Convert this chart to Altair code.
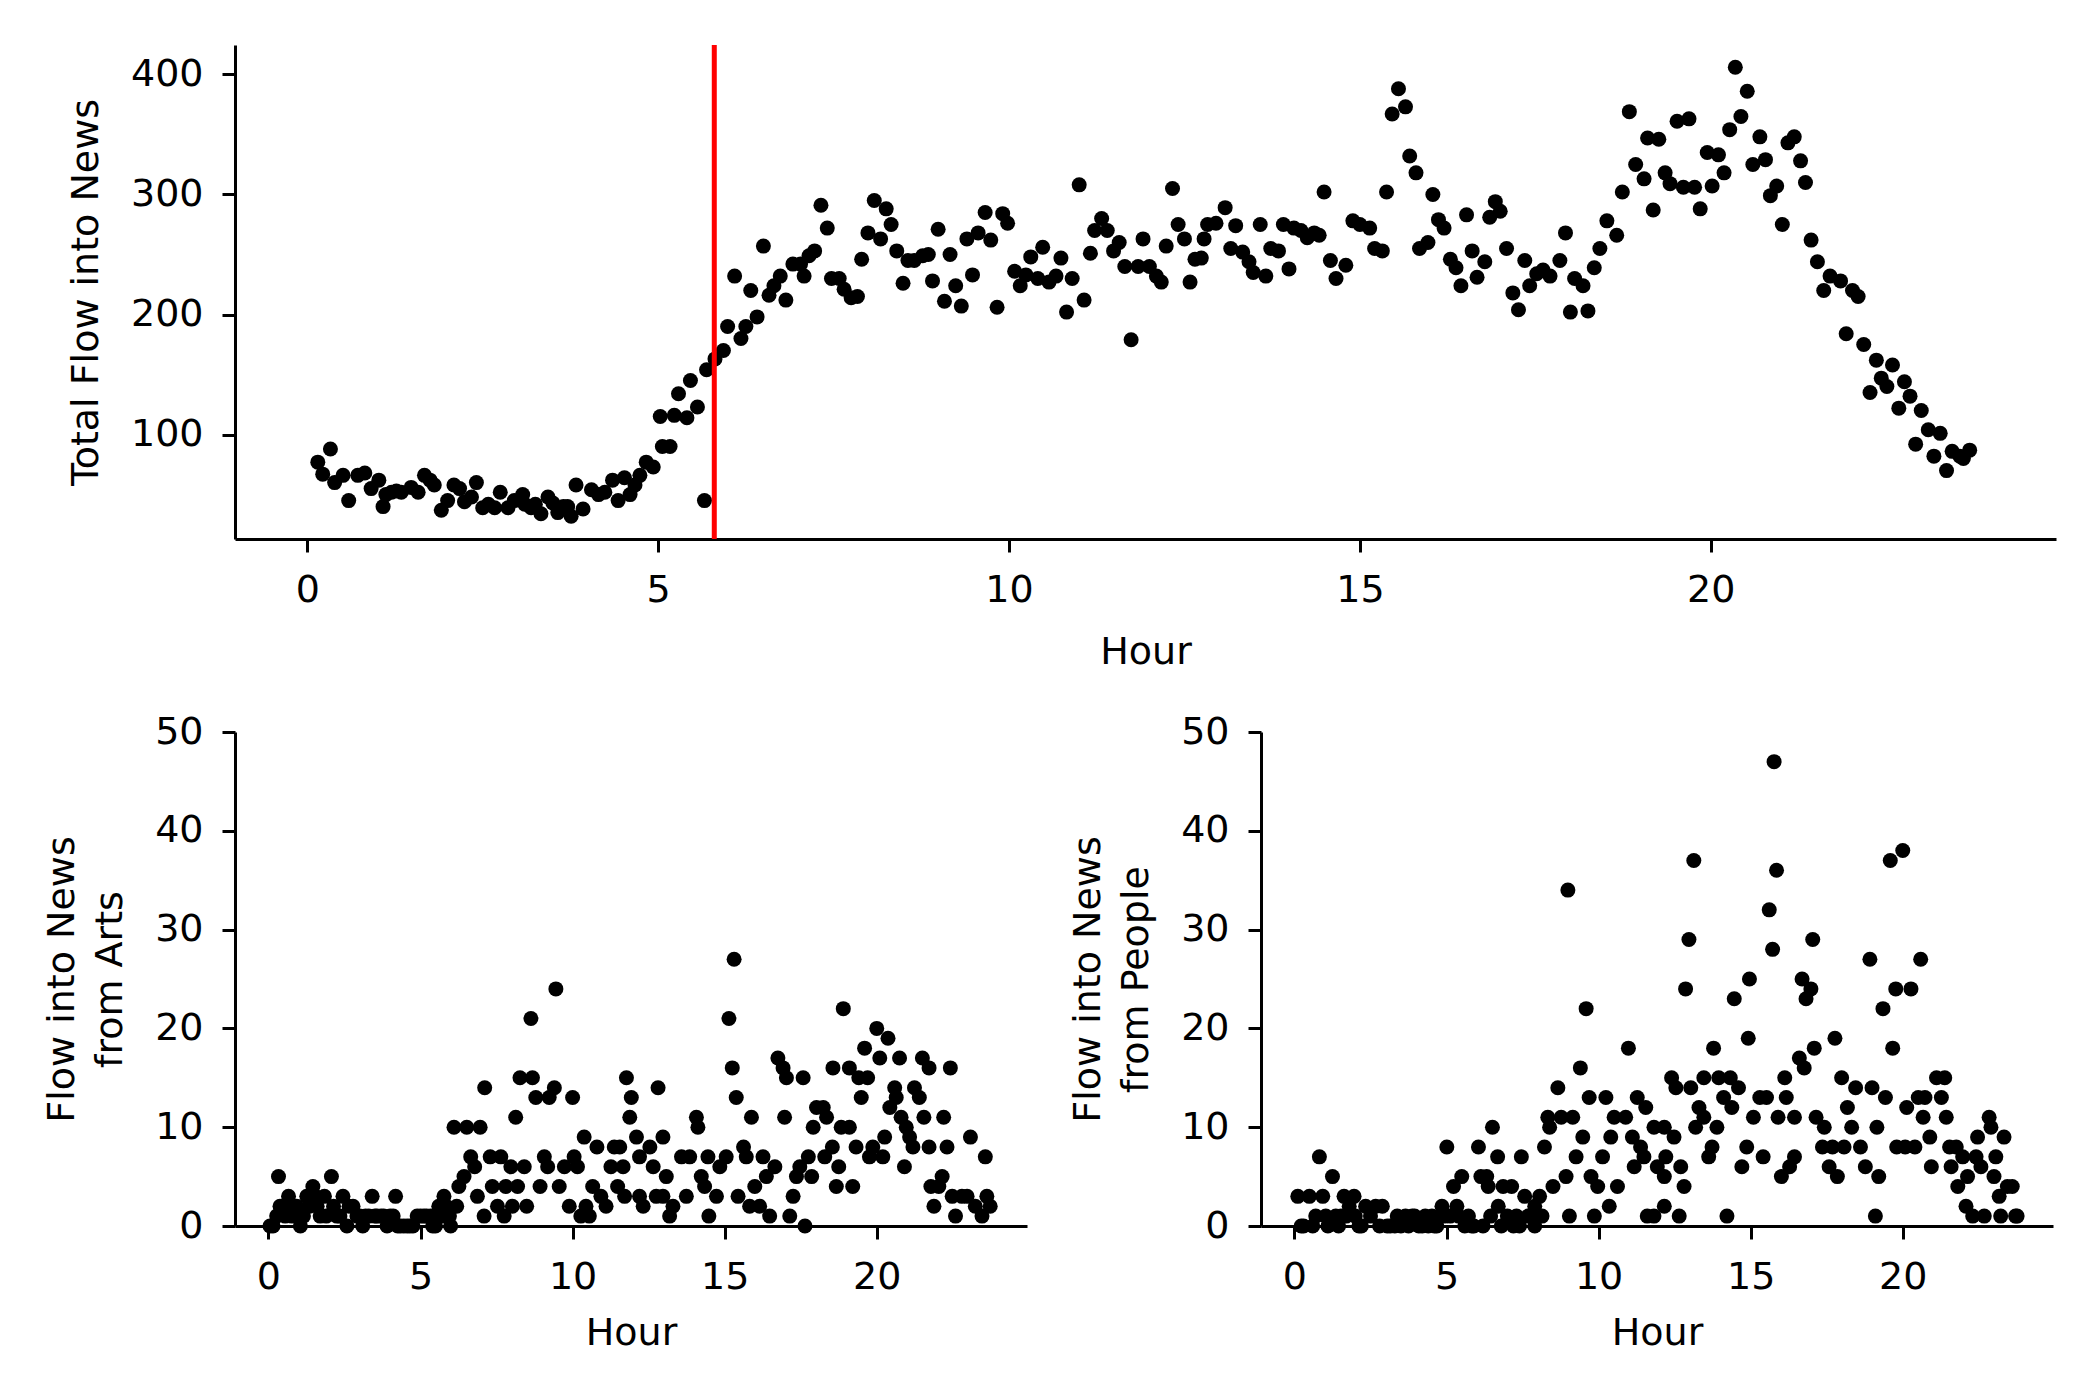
import altair as alt
import pandas as pd

# ---- Top panel: total flow into News ----
top_hour = [0.15, 0.22, 0.33, 0.39, 0.51, 0.59, 0.72, 0.82, 0.91, 1.02, 1.08, 1.12, 1.2, 1.27, 1.34, 1.48,
            1.58, 1.67, 1.75, 1.81, 1.91, 2.0, 2.09, 2.17, 2.24, 2.34, 2.41, 2.5, 2.58, 2.67, 2.75, 2.86,
            2.95, 3.07, 3.1, 3.19, 3.25, 3.33, 3.43, 3.5, 3.57, 3.65, 3.71, 3.76, 3.83, 3.93, 4.05, 4.15,
            4.24, 4.35, 4.43, 4.52, 4.6, 4.67, 4.74, 4.83, 4.93, 5.03, 5.06, 5.17, 5.23, 5.29, 5.41, 5.46,
            5.56, 5.66, 5.69, 5.81, 5.93, 5.99,
            6.09, 6.18, 6.25, 6.32, 6.41, 6.5, 6.58, 6.65, 6.74, 6.82, 6.92, 7.03, 7.08, 7.15, 7.23, 7.32,
            7.41, 7.47, 7.58, 7.65, 7.75, 7.84, 7.9, 7.99, 8.08, 8.17, 8.25, 8.32, 8.4, 8.49, 8.56, 8.65,
            8.77, 8.85, 8.91, 8.99, 9.08, 9.16, 9.24, 9.32, 9.4, 9.48, 9.56, 9.66, 9.74, 9.83, 9.91, 9.98,
            10.08, 10.16, 10.24, 10.31, 10.41, 10.48, 10.57, 10.67, 10.74, 10.82, 10.9, 11.0, 11.07, 11.16,
            11.22, 11.32, 11.4, 11.49, 11.57, 11.65, 11.74, 11.84, 11.91, 12.0, 12.1, 12.17, 12.24, 12.33,
            12.41, 12.5, 12.58, 12.65,
            12.74, 12.78, 12.83, 12.95, 13.08, 13.16, 13.23, 13.33, 13.42, 13.48, 13.58, 13.66, 13.73, 13.84,
            13.91, 13.99, 14.06, 14.16, 14.25, 14.35, 14.42, 14.49, 14.58, 14.66, 14.8, 14.9, 15.0, 15.14,
            15.21, 15.32, 15.38, 15.46, 15.55, 15.65, 15.71, 15.8, 15.85, 15.97, 16.04, 16.12, 16.2, 16.29,
            16.37, 16.44, 16.52, 16.6, 16.67, 16.78, 16.85, 16.93, 17.0, 17.09, 17.18, 17.26, 17.35, 17.42,
            17.52, 17.61, 17.71, 17.85, 17.93, 18.0, 18.06, 18.18, 18.25, 18.34, 18.42, 18.52, 18.66, 18.74,
            18.84, 18.93,
            19.05, 19.1, 19.18, 19.26, 19.35, 19.42, 19.52, 19.61, 19.69, 19.77, 19.85, 19.95, 20.02, 20.11,
            20.19, 20.27, 20.35, 20.43, 20.52, 20.6, 20.7, 20.78, 20.85, 20.94, 21.02, 21.1, 21.19, 21.28,
            21.35, 21.43, 21.52, 21.61, 21.7, 21.85, 21.93, 22.02, 22.1, 22.18, 22.27, 22.36, 22.43, 22.51,
            22.59, 22.68, 22.76, 22.84, 22.92, 23.0, 23.1, 23.18, 23.27, 23.36, 23.44, 23.55, 23.6, 23.69]
top_flow = [77, 67, 88, 60, 66, 45, 66, 68, 55, 62, 40, 50, 52, 53, 52, 56,
            52, 66, 62, 58, 37, 45, 58, 55, 44, 48, 60, 39, 42, 39, 52, 39,
            45, 50, 42, 39, 42, 34, 48, 43, 35, 40, 40, 32, 58, 38, 54, 50,
            52, 62, 45, 64, 50, 58, 66, 77, 73, 115, 90, 90, 116, 134, 114, 145,
            123, 45, 154, 163, 170, 190,
            232, 180, 190, 220, 198, 257, 216, 224, 232, 212, 242, 242, 232, 249, 253, 291,
            272, 230, 230, 221, 214, 215, 246, 268, 295, 263, 288, 275, 253, 226, 245, 245,
            249, 250, 228, 271, 211, 250, 224, 207, 263, 233, 268, 285, 262, 206, 284, 276,
            236, 224, 233, 248, 230, 256, 227, 232, 247, 202, 230, 308, 212, 251,
            270, 280, 270, 253, 260, 240, 179, 240, 263, 240, 232, 227, 257, 305,
            275, 263, 227, 246,
            247, 263, 275, 276, 289, 255, 274, 252, 244, 235, 275, 232, 255, 253,
            275, 238, 272, 270, 264, 268, 266, 302, 245, 230, 241, 278, 275, 272,
            255, 253, 302, 367, 388, 373, 332, 318, 255, 260, 300, 279, 272, 246,
            239, 224, 283, 253, 231, 244, 281, 294, 286, 255, 218, 204, 245, 224,
            234, 237, 232, 245, 268, 202, 230, 224, 203, 239, 255, 278, 266, 302,
            369, 325,
            313, 347, 287, 346, 318, 309, 361, 306, 363, 306, 288, 335, 307, 333,
            318, 354, 406, 365, 386, 325, 348, 329, 299, 307, 275, 343, 348, 328,
            310, 262, 244, 220, 232, 228, 184, 220, 215, 175, 135, 162, 147, 140,
            158, 122, 144, 132, 92, 120, 104, 82, 101, 70, 86, 82, 80, 87]
event_hour = [5.8]

# ---- Bottom left: flow into News from Arts ----
arts_hour = [0.05, 0.15, 0.27, 0.33, 0.38, 0.45, 0.55, 0.66, 0.77, 0.85, 0.93, 1.05, 1.15, 1.26, 1.35,
             1.46, 1.55, 1.6, 1.7, 1.84, 1.9, 2.07, 2.14, 2.25, 2.35, 2.45, 2.58, 2.65, 2.78, 2.91, 3.0,
             3.1, 3.19, 3.3, 3.41, 3.5, 3.57, 3.7, 3.79, 3.9, 4.0, 4.1, 4.18, 4.25, 4.34, 4.45, 4.56, 4.65,
             4.75, 4.89, 5.0, 5.11, 5.2, 5.33, 5.4, 5.49, 5.6, 5.7, 5.77, 5.85, 5.95, 5.99,
             6.1, 6.19, 6.26, 6.43, 6.52, 6.65, 6.78, 6.87, 6.96, 7.09, 7.11, 7.29, 7.36, 7.53, 7.64,
             7.75, 7.8, 7.97, 8.02, 8.13, 8.19, 8.27, 8.41, 8.49, 8.63, 8.68, 8.79, 8.93, 9.07, 9.18,
             9.23, 9.4, 9.45, 9.56, 9.73, 9.89, 10.0, 10.05, 10.16, 10.27, 10.38, 10.44, 10.55, 10.66,
             10.8, 10.93, 11.1, 11.26, 11.37, 11.48,
             11.55, 11.66, 11.71, 11.77, 11.88, 11.93, 12.1, 12.2, 12.2, 12.32, 12.54, 12.65, 12.75, 12.81,
             12.97, 12.97, 13.08, 13.19, 13.3, 13.58, 13.74, 13.85, 14.07, 14.12, 14.23, 14.34, 14.45,
             14.48, 14.73, 14.84, 15.05, 15.14, 15.25, 15.31, 15.38, 15.44, 15.62, 15.71, 15.82, 15.88,
             15.99, 16.15, 16.26, 16.37, 16.48, 16.65, 16.75, 16.92, 16.97, 17.03, 17.14, 17.25, 17.36,
             17.47, 17.58, 17.64, 17.75, 17.86, 17.91, 18.02, 18.24, 18.29, 18.35, 18.54, 18.56, 18.67,
             18.75, 18.83, 18.9, 19.1, 19.1, 19.21, 19.32, 19.41, 19.49, 19.6, 19.7, 19.76, 19.87, 20.0,
             20.1, 20.2, 20.26, 20.37, 20.43, 20.59, 20.64, 20.75, 20.8, 20.91, 20.97, 21.08, 21.19,
             21.24, 21.4, 21.5, 21.55, 21.72, 21.72, 21.78, 21.88, 22.04, 22.15, 22.2, 22.31, 22.42,
             22.48, 22.59, 22.8, 22.97, 23.08, 23.24, 23.46, 23.57, 23.62, 23.73]
arts_flow = [0, 0, 1, 5, 2, 2, 1, 3, 1, 2, 2, 0, 1, 3, 2,
             4, 3, 2, 1, 3, 1, 5, 2, 1, 1, 3, 0, 2, 2, 1, 1,
             0, 1, 1, 3, 1, 1, 1, 1, 0, 1, 1, 3, 0, 0, 0, 0, 0,
             0, 1, 1, 1, 1, 1, 0, 0, 2, 1, 3, 2, 1, 0,
             10, 2, 4, 5, 10, 7, 6, 3, 10, 1, 14, 7, 4, 2, 7,
             1, 4, 6, 2, 11, 4, 15, 6, 2, 21, 15, 13, 4, 7, 6,
             13, 14, 24, 4, 6, 2, 13, 7, 6, 1, 9, 2, 1, 4,
             8, 3, 2, 6, 8, 4,
             8, 6, 3, 15, 11, 13, 9, 7, 3, 2, 8, 6, 3, 14,
             9, 3, 5, 1, 2, 7, 3, 7, 11, 10, 5, 4, 7,
             1, 3, 6, 7, 21, 16, 27, 13, 3, 8, 7, 2, 11,
             4, 2, 7, 5, 1, 6, 17, 16, 11, 15, 1, 3, 5,
             6, 15, 0, 7, 5, 10, 12, 12, 7, 11, 8, 16, 4,
             6, 10, 22, 16, 10, 4, 8, 15, 13, 18, 15, 7, 8, 20,
             17, 7, 9, 19, 12, 14, 13, 17, 11, 6, 10, 9, 8,
             14, 13, 17, 11, 16, 8, 4, 2, 4, 5, 11, 8, 16,
             3, 1, 3, 3, 9, 2, 1, 7, 3, 2]

# ---- Bottom right: flow into News from People ----
people_hour = [0.11, 0.22, 0.3, 0.49, 0.6, 0.7, 0.82, 0.93, 1.03, 1.1, 1.25, 1.36, 1.45, 1.53, 1.63,
               1.7, 1.8, 1.96, 2.0, 2.12, 2.2, 2.34, 2.5, 2.67, 2.8, 2.89, 3.05, 3.15, 3.3, 3.38, 3.5,
               3.65, 3.75, 3.87, 3.95, 4.09, 4.2, 4.3, 4.4, 4.52, 4.6, 4.68, 4.8, 4.85, 4.95, 5.01,
               5.12, 5.23, 5.34, 5.4, 5.5, 5.6, 5.72, 5.83, 5.9, 6.05, 6.13, 6.2, 6.32, 6.37, 6.45,
               6.51, 6.68, 6.7, 6.8, 6.86, 7.0, 7.14, 7.2, 7.3, 7.4, 7.46, 7.57, 7.68, 7.8, 7.9, 7.9,
               8.06, 8.14, 8.22, 8.33, 8.39, 8.5, 8.66, 8.77, 8.93, 8.99, 9.04, 9.15, 9.26, 9.4, 9.48,
               9.59, 9.69, 9.75, 9.86, 9.97, 10.13, 10.24, 10.35, 10.4, 10.51, 10.62, 10.89, 10.98,
               11.11, 11.17, 11.27, 11.38, 11.49, 11.55, 11.6, 11.82, 11.82, 11.93,
               12.16, 12.21, 12.16, 12.16, 12.4, 12.48, 12.54, 12.65, 12.7, 12.81, 12.86, 12.97, 13.03,
               13.13, 13.19, 13.3, 13.46, 13.46, 13.62, 13.73, 13.78, 13.89, 13.95, 14.11, 14.22, 14.33,
               14.38, 14.46, 14.6, 14.71, 14.87, 14.92, 14.96, 15.09, 15.3, 15.41, 15.52, 15.61, 15.72,
               15.77, 15.85, 15.9, 16.01, 16.12, 16.17, 16.28, 16.44, 16.44, 16.6, 16.69, 16.76, 16.82,
               16.98, 17.04, 17.09, 17.15, 17.36, 17.42, 17.58, 17.69, 17.77, 17.85, 17.99, 18.07, 18.18,
               18.32, 18.45, 18.61, 18.77, 18.92, 18.99, 19.1, 19.15, 19.21, 19.35, 19.43, 19.59, 19.67,
               19.77, 19.8, 20.0, 20.08, 20.13, 20.27, 20.4, 20.51, 20.59, 20.67, 20.73, 20.89, 20.94,
               21.11, 21.27, 21.38, 21.43, 21.54, 21.59, 21.76, 21.81, 21.97, 22.08, 22.13, 22.3, 22.41,
               22.46, 22.57, 22.68, 22.84, 22.9, 23.0, 23.06, 23.17, 23.22, 23.33, 23.44, 23.6, 23.71,
               23.76]
people_flow = [3, 0, 0, 3, 0, 1, 7, 3, 1, 0, 5, 1, 0, 1, 3,
               1, 2, 3, 1, 0, 0, 2, 1, 2, 0, 2, 0, 0, 0, 1, 0,
               1, 0, 1, 1, 0, 0, 1, 0, 1, 0, 0, 1, 2, 1, 8,
               1, 4, 2, 1, 5, 0, 1, 0, 0, 8, 5, 0, 5, 4, 1,
               10, 7, 2, 0, 4, 1, 4, 0, 1, 0, 7, 3, 1, 1, 0, 2,
               3, 1, 8, 11, 10, 4, 14, 11, 5, 34, 1, 11, 7, 16, 9,
               22, 13, 5, 1, 4, 7, 13, 2, 9, 11, 4, 11, 18,
               9, 6, 13, 8, 7, 12, 1, 1, 10, 6,
               10, 7, 5, 2, 15, 9, 14, 1, 6, 4, 24, 29, 14,
               37, 10, 12, 11, 15, 7, 8, 18, 10, 15, 13, 1, 15,
               12, 23, 14, 6, 8, 19, 25, 11, 13, 7, 13, 32, 28,
               47, 36, 11, 5, 15, 13, 6, 11, 7, 17, 25, 16, 23,
               24, 29, 18, 11, 8, 10, 6, 8, 19, 5, 15, 8, 12,
               10, 14, 8, 6, 27, 14, 1, 10, 5, 22, 13, 37, 18,
               24, 8, 38, 8, 12, 24, 8, 13, 27, 11, 13, 9, 6,
               15, 13, 15, 11, 8, 6, 8, 4, 7, 2, 5, 1, 7,
               9, 6, 1, 11, 10, 5, 7, 3, 1, 9, 4, 4, 1,
               1]

FONT = "DejaVu Sans"
FS = 38
DOT = 225

top_df = pd.DataFrame({"Hour": top_hour, "Flow": top_flow})
arts_df = pd.DataFrame({"Hour": arts_hour, "Flow": arts_flow})
people_df = pd.DataFrame({"Hour": people_hour, "Flow": people_flow})
event_df = pd.DataFrame({"Hour": event_hour})

hour_ticks = [0, 5, 10, 15, 20]

top_points = alt.Chart(top_df).mark_circle(size=DOT, color="black", opacity=1).encode(
    x=alt.X("Hour:Q", title="Hour",
            scale=alt.Scale(domain=[-1.03, 24.92], nice=False, zero=False),
            axis=alt.Axis(values=hour_ticks, format="d", titlePadding=24)),
    y=alt.Y("Flow:Q", title="Total Flow into News",
            scale=alt.Scale(domain=[13, 424.5], nice=False, zero=False),
            axis=alt.Axis(values=[100, 200, 300, 400], format="d")),
)
top_rule = alt.Chart(event_df).mark_rule(color="#ff0000", strokeWidth=5).encode(x="Hour:Q")
top = alt.layer(top_points, top_rule).properties(width=1821, height=494)


def bottom(df, line2):
    return alt.Chart(df).mark_circle(size=DOT, color="black", opacity=1).encode(
        x=alt.X("Hour:Q", title="Hour",
                scale=alt.Scale(domain=[-1.1, 24.94], nice=False, zero=False),
                axis=alt.Axis(values=hour_ticks, format="d")),
        y=alt.Y("Flow:Q", title=["Flow into News", line2],
                scale=alt.Scale(domain=[0, 50], nice=False, zero=False),
                axis=alt.Axis(values=[0, 10, 20, 30, 40, 50], format="d")),
    ).properties(width=792, height=494)


bl = bottom(arts_df, "from Arts")
br = bottom(people_df, "from People")

chart = alt.vconcat(
    top,
    alt.hconcat(bl, br, spacing=234, bounds="flush"),
    spacing=193, bounds="flush",
).properties(
    padding={"left": 35, "top": 34, "right": 20, "bottom": 20},
    background="white",
).configure_view(strokeWidth=0).configure_axis(
    grid=False, domainColor="black", domainWidth=3, tickColor="black", tickWidth=3,
    tickSize=13, labelFont=FONT, labelFontSize=FS, labelColor="black",
    titleFont=FONT, titleFontSize=FS, titleFontWeight="normal", titleColor="black",
    labelFlush=False, titleLineHeight=48,
).configure_axisX(
    labelPadding=19, titlePadding=18,
).configure_axisY(
    labelPadding=19, titlePadding=25,
)

chart.save("out.html", embed_options={"renderer": "svg", "actions": False})
